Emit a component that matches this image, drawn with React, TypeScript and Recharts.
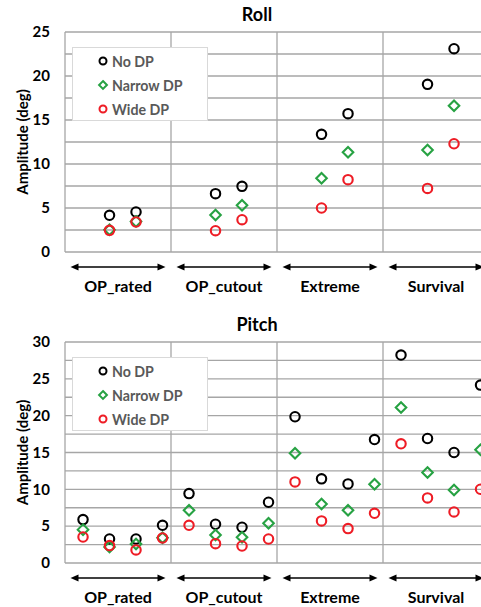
import React from 'react';
import { ScatterChart, Scatter, XAxis, YAxis, CartesianGrid, ReferenceLine, Legend } from 'recharts';

const FONT = "Lato, 'Open Sans', 'DejaVu Sans', sans-serif";

// ---- data ----
const categories = ['OP_rated', 'OP_cutout', 'Extreme', 'Survival'];
const categoryTicks = [2, 6, 10, 14];
const groupBoundaries = [4, 8, 12];
const seriesNames = ['No DP', 'Narrow DP', 'Wide DP'];

// case slots inside each category (4 cases per category)
const rollCaseSlots = [1, 2];
const pitchCaseSlots = [0, 1, 2, 3];

const rollNoDP = [4.17, 4.55, 6.63, 7.46, 13.37, 15.72, 19.05, 23.1];
const rollNarrowDP = [2.54, 3.48, 4.2, 5.3, 8.37, 11.33, 11.59, 16.63];
const rollWideDP = [2.46, 3.41, 2.42, 3.67, 5.0, 8.22, 7.23, 12.3];

const pitchNoDP = [5.89, 3.26, 3.26, 5.12, 9.42, 5.26, 4.85, 8.25, 19.85, 11.42, 10.74, 16.76, 28.23, 16.9, 15.0, 24.15];
const pitchNarrowDP = [4.53, 2.17, 2.58, 3.44, 7.16, 3.81, 3.49, 5.39, 14.9, 8.02, 7.16, 10.69, 21.11, 12.28, 9.92, 15.36];
const pitchWideDP = [3.53, 2.36, 1.77, 3.4, 5.12, 2.63, 2.31, 3.26, 11.01, 5.71, 4.67, 6.75, 16.18, 8.84, 6.93, 10.01];

const rollTicks = [0, 2.5, 5, 7.5, 10, 12.5, 15, 17.5, 20, 22.5, 25];
const pitchTicks = [0, 2.5, 5, 7.5, 10, 12.5, 15, 17.5, 20, 22.5, 25, 27.5, 30];

// ---- styles ----
const COLORS = ['#000000', '#27a243', '#ee1c25'];
const SHAPES = ['circle', 'diamond', 'circle'];
const GRID = '#a6a6a6';
const SLOT_OFFSET = 0.68;

function buildPoints(values: number[], slots: number[]) {
  return values.map((v, i) => ({
    x: Math.floor(i / slots.length) * 4 + slots[i % slots.length] + SLOT_OFFSET,
    y: v,
  }));
}

function Marker({ cx, cy, kind, color, size, sw = 2 }: any) {
  if (kind === 'diamond') {
    const d = size * 1.12;
    return (
      <path
        d={`M${cx},${cy - d} L${cx + d},${cy} L${cx},${cy + d} L${cx - d},${cy} Z`}
        fill="none"
        stroke={color}
        strokeWidth={sw}
      />
    );
  }
  return <circle cx={cx} cy={cy} r={size} fill="none" stroke={color} strokeWidth={sw} />;
}

const CategoryTick = (props: any) => {
  const { x, y, payload } = props;
  const idx = categoryTicks.indexOf(payload.value);
  const label = categories[idx] ?? '';
  const ay = y + 15;
  const half = 47.5;
  const hl = 8;
  const hw = 3.6;
  return (
    <g>
      <line x1={x - half + hl - 1} y1={ay} x2={x + half - hl + 1} y2={ay} stroke="#000" strokeWidth={1.4} />
      <path d={`M${x - half},${ay} L${x - half + hl},${ay - hw} L${x - half + hl},${ay + hw} Z`} fill="#000" />
      <path d={`M${x + half},${ay} L${x + half - hl},${ay - hw} L${x + half - hl},${ay + hw} Z`} fill="#000" />
      <text
        x={x}
        y={ay + 25}
        textAnchor="middle"
        fontFamily={FONT}
        fontWeight="bold"
        fontSize={16}
        fill="#000"
      >
        {label}
      </text>
    </g>
  );
};

const LegendBox = () => (
  <div style={{ paddingTop: 1 }}>
    {seriesNames.map((name, i) => (
      <div key={name} style={{ height: 24, display: 'flex', alignItems: 'center' }}>
        <svg width={12} height={12} style={{ marginLeft: 23.5, marginRight: 3.5 }}>
          <Marker cx={6} cy={6} kind={SHAPES[i]} color={COLORS[i]} size={3.5} sw={2} />
        </svg>
        <span style={{ fontFamily: FONT, fontWeight: 'bold', fontSize: 14.2, color: '#595959' }}>{name}</span>
      </div>
    ))}
  </div>
);

function Panel({ title, top, height, marginTop, plotHeight, ticks, yMax, series, legendTop }: any) {
  return (
    <div style={{ position: 'absolute', left: 0, top, width: 500, height }}>
      <div
        style={{
          position: 'absolute',
          left: 0,
          top: marginTop - 28,
          width: 514,
          textAlign: 'center',
          fontFamily: FONT,
          fontWeight: 'bold',
          fontSize: 18,
          lineHeight: '20px',
          color: '#000',
          zIndex: 2,
        }}
      >
        {title}
      </div>
      <ScatterChart width={500} height={height} margin={{ top: marginTop, right: 11, bottom: 0, left: 0 }}>
        <CartesianGrid vertical={false} stroke={GRID} strokeWidth={1.3} />
        <XAxis
          type="number"
          dataKey="x"
          domain={[0, 16]}
          ticks={categoryTicks}
          interval={0}
          axisLine={false}
          tickLine={false}
          tickSize={0}
          tickMargin={0}
          height={height - marginTop - plotHeight}
          tick={<CategoryTick />}
          allowDataOverflow
        />
        <YAxis
          type="number"
          dataKey="y"
          domain={[0, yMax]}
          ticks={ticks}
          interval={0}
          width={65}
          axisLine={{ stroke: GRID, strokeWidth: 1.3 }}
          tickLine={false}
          tickSize={6}
          tickMargin={9}
          tickFormatter={(v: number) => (v % 5 === 0 ? String(v) : '')}
          tick={{ fill: '#000', fontFamily: FONT, fontWeight: 'bold', fontSize: 15 }}
          label={{
            content: (p: any) => {
              const vb = p.viewBox;
              const cx = vb.x + 22;
              const cy = vb.y + vb.height / 2;
              return (
                <text
                  x={cx}
                  y={cy}
                  transform={`rotate(-90, ${cx}, ${cy})`}
                  textAnchor="middle"
                  dominantBaseline="central"
                  fontFamily={FONT}
                  fontWeight="bold"
                  fontSize={15}
                  fill="#000"
                >
                  Amplitude (deg)
                </text>
              );
            },
          }}
        />
        {groupBoundaries.map((b) => (
          <ReferenceLine key={b} x={b} stroke={GRID} strokeWidth={1.3} />
        ))}
        <Legend
          layout="vertical"
          align="center"
          verticalAlign="middle"
          content={<LegendBox />}
          wrapperStyle={{
            left: 72,
            top: legendTop,
            width: 136,
            height: 74,
            border: '1px solid #d9d9d9',
            background: '#fff',
            boxSizing: 'border-box',
          }}
        />
        {series.map((s: any, i: number) => (
          <Scatter
            key={seriesNames[i]}
            name={seriesNames[i]}
            data={s}
            fill={COLORS[i]}
            isAnimationActive={false}
            shape={(p: any) => <Marker cx={p.cx} cy={p.cy} kind={SHAPES[i]} color={COLORS[i]} size={4.7} sw={2.1} />}
          />
        ))}
      </ScatterChart>
    </div>
  );
}

export default function App() {
  const rollSeries = [
    buildPoints(rollNoDP, rollCaseSlots),
    buildPoints(rollNarrowDP, rollCaseSlots),
    buildPoints(rollWideDP, rollCaseSlots),
  ];
  const pitchSeries = [
    buildPoints(pitchNoDP, pitchCaseSlots),
    buildPoints(pitchNarrowDP, pitchCaseSlots),
    buildPoints(pitchWideDP, pitchCaseSlots),
  ];
  return (
    <div
      style={{
        position: 'fixed',
        left: 0,
        top: 0,
        width: 481,
        height: 607,
        overflow: 'hidden',
        background: '#fff',
      }}
    >
      <Panel title="Roll" top={0} height={300} marginTop={32} plotHeight={220} ticks={rollTicks} yMax={25} series={rollSeries} legendTop={47} />
      <Panel title="Pitch" top={300} height={307} marginTop={42} plotHeight={221} ticks={pitchTicks} yMax={30} series={pitchSeries} legendTop={57} />
    </div>
  );
}
